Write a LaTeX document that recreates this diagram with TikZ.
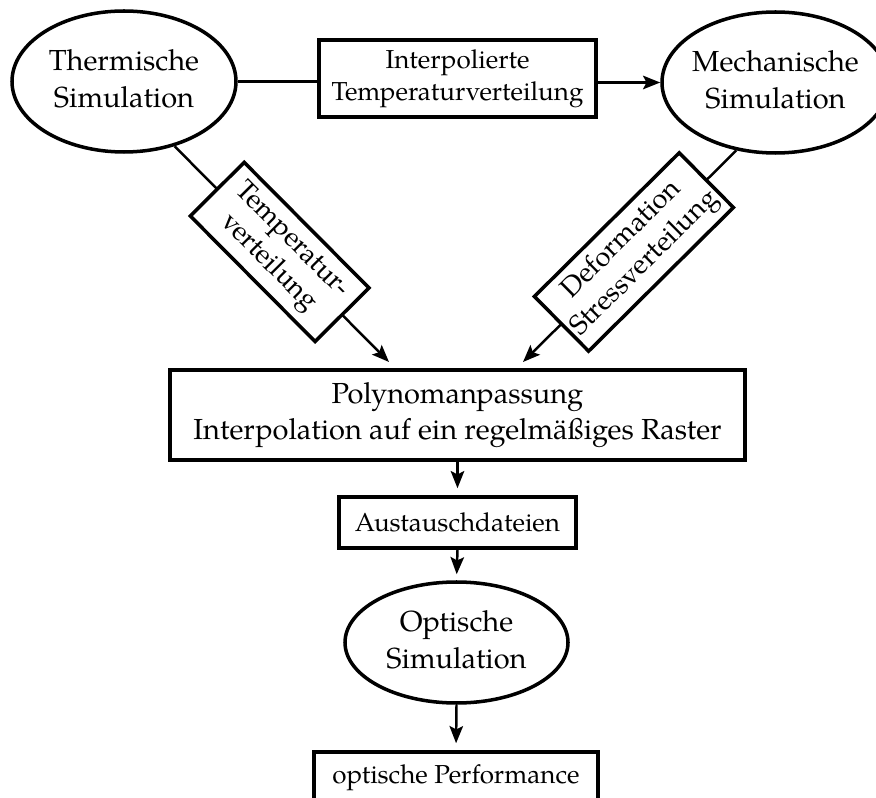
\documentclass[tikz,border=0pt]{standalone}
\usepackage{fontspec}
\setmainfont{TeX Gyre Pagella}
\usetikzlibrary{shapes.geometric,arrows.meta}

% one drawing unit
\newcommand\pxu{0.3846pt}
% centred two-line text that does not widen its node
\newcommand\ctext[1]{\makebox[0pt]{\begin{tabular}{@{}c@{}}#1\end{tabular}}}

\begin{document}
\begin{tikzpicture}[x=\pxu, y=-\pxu,
  sim/.style={ellipse, draw, line width=1.35pt, inner sep=0pt,
    font=\fontsize{11.15pt}{14.1pt}\selectfont},
  box/.style={rectangle, draw, line width=1.35pt, inner sep=2pt, align=center,
    font=\fontsize{10pt}{12.2pt}\selectfont},
  bigbox/.style={box, font=\fontsize{11.15pt}{14.1pt}\selectfont},
  tagbox/.style={box, sloped, fill=white, inner sep=1pt,
    font=\fontsize{10.6pt}{12.6pt}\selectfont},
  flow/.style={line width=0.95pt},
  arr/.style={flow, -{Stealth[length=6.6pt, width=5.2pt, inset=1.3pt]}},
]
\useasboundingbox (0,0) rectangle (876,798);
\clip (0,0) rectangle (876,798);

% simulations and intermediate data
\node[sim, minimum width=224*\pxu, minimum height=141*\pxu] (therm) at (124,81.5)
  {\ctext{Thermische\\Simulation}};
\node[sim, minimum width=227*\pxu, minimum height=141*\pxu] (mech) at (775.5,82.5)
  {\ctext{Mechanische\\Simulation}};
\node[box, minimum width=277*\pxu, minimum height=77*\pxu] (interp) at (457.5,78.5)
  {Interpolierte\\Temperaturverteilung};
\node[bigbox, minimum width=575*\pxu, minimum height=90*\pxu] (poly) at (457.5,415)
  {Polynomanpassung\\Interpolation auf ein regelmäßiges Raster};
\node[box, minimum width=237*\pxu, minimum height=51*\pxu] (aust) at (457.5,522.5)
  {Austauschdateien};
\node[sim, minimum width=223*\pxu, minimum height=121*\pxu] (opt) at (456.5,642.5)
  {\ctext{Optische\\Simulation}};
\node[box, minimum width=284*\pxu, minimum height=51*\pxu] (perf) at (456,777.5)
  {optische Performance};

% inputs of the polynomial fit
\coordinate (tin) at (389,362);
\coordinate (din) at (523,362);

% connectors
\draw[flow] (therm.east) -- (therm.east -| interp.west);
\draw[arr] (mech.west -| interp.east) -- (mech.west);
\draw[arr] (therm.-52.3) -- node[tagbox, pos=0.49, minimum width=177*\pxu,
  minimum height=76*\pxu] (tv) {Temperatur-\\verteilung} (tin);
\draw[arr] (mech.-120) -- node[tagbox, pos=0.48, minimum width=204*\pxu,
  minimum height=77*\pxu] (dv) {Deformation\\Stressverteilung} (din);
\draw[arr, shorten >=2.7pt] (poly.south) -- (aust.north);
\draw[arr, shorten >=2.3pt] (aust.south) -- (opt.north);
\draw[arr, shorten >=2.7pt] (opt.south) -- (perf.north);
\end{tikzpicture}
\end{document}
